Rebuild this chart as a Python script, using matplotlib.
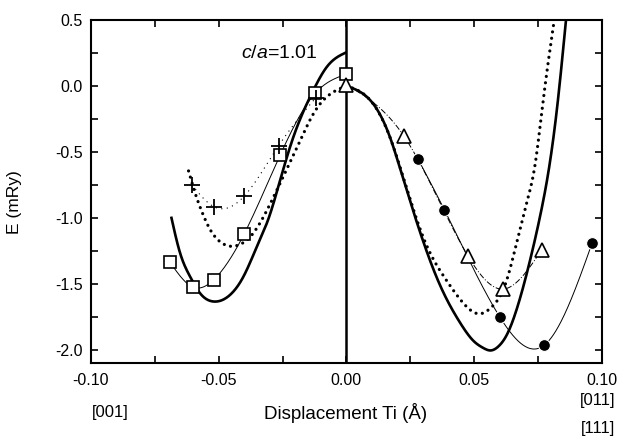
import numpy as np
import matplotlib
matplotlib.use("Agg")
import matplotlib.pyplot as plt

plt.rcParams['font.family'] = ['Liberation Sans', 'DejaVu Sans']
plt.rcParams['axes.unicode_minus'] = False
plt.rcParams['mathtext.fontset'] = 'custom'
plt.rcParams['mathtext.rm'] = 'Liberation Sans'
plt.rcParams['mathtext.it'] = 'Liberation Sans:italic'

# ---------------- data ----------------
# thick solid curve, [001] side (negative displacement)
solid_left_x = [-0.0686, -0.0651, -0.0612, -0.0573, -0.052, -0.0455, -0.0403,
                -0.035, -0.0302, -0.0259, -0.0207, -0.0135, -0.0076, 0.0]
solid_left_y = [-0.99, -1.267, -1.445, -1.571, -1.634, -1.583, -1.445,
                -1.217, -0.99, -0.712, -0.384, -0.055, 0.146, 0.255]
# thick solid curve, [011]/[111] side
solid_right_x = [0.0, 0.0107, 0.0173, 0.0212, 0.029, 0.0369, 0.0447, 0.0499,
                 0.0535, 0.0565, 0.0595, 0.063, 0.0669, 0.0722, 0.0761, 0.0787,
                 0.0826, 0.0860]
solid_right_y = [0.0, -0.14, -0.40, -0.636, -1.116, -1.52, -1.80, -1.935,
                 -1.985, -2.005, -1.975, -1.88, -1.68, -1.30, -0.965, -0.70,
                 -0.15, 0.50]
# thick dotted curve
dotted_left_x = [-0.0618, -0.0592, -0.0566, -0.0533, -0.0488, -0.0455, -0.0429,
                 -0.037, -0.0324, -0.0278, -0.018, -0.0128, -0.0076, 0.0]
dotted_left_y = [-0.644, -0.813, -0.952, -1.09, -1.19, -1.215, -1.21,
                 -1.129, -0.99, -0.813, -0.409, -0.207, -0.081, 0.0]
dotted_right_x = [0.0, 0.0107, 0.0173, 0.0238, 0.0316, 0.0382, 0.0447, 0.052,
                  0.0571, 0.0624, 0.0669, 0.0709, 0.0737, 0.0771, 0.0813]
dotted_right_y = [0.0, -0.14, -0.40, -0.788, -1.217, -1.445, -1.621, -1.727,
                  -1.672, -1.495, -1.17, -0.864, -0.62, -0.106, 0.487]

# open squares
sq_x = [-0.069, -0.0601, -0.052, -0.040, -0.0259, -0.0122, 0.0]
sq_y = [-1.338, -1.525, -1.47, -1.121, -0.523, -0.055, 0.09]
# plus markers
pl_x = [-0.0605, -0.052, -0.0399, -0.0265, -0.012]
pl_y = [-0.75, -0.914, -0.833, -0.452, -0.09]
# open triangles
tr_x = [0.0, 0.0225, 0.0476, 0.0614, 0.0765]
tr_y = [0.01, -0.379, -1.288, -1.54, -1.242]
# filled circles
ci_x = [0.0281, 0.0384, 0.0601, 0.0775, 0.0963]
ci_y = [-0.555, -0.939, -1.752, -1.965, -1.187]

x_ticks = [-0.10, -0.05, 0.00, 0.05, 0.10]
y_ticks = [0.5, 0.0, -0.5, -1.0, -1.5, -2.0]


def spline(x, y, n=300):
    """Natural cubic spline through the given points (smooth connector)."""
    x = np.asarray(x, float)
    y = np.asarray(y, float)
    k = len(x)
    h = np.diff(x)
    A = np.zeros((k, k))
    b = np.zeros(k)
    A[0, 0] = 1
    A[-1, -1] = 1
    for i in range(1, k - 1):
        A[i, i - 1] = h[i - 1]
        A[i, i] = 2 * (h[i - 1] + h[i])
        A[i, i + 1] = h[i]
        b[i] = 6 * ((y[i + 1] - y[i]) / h[i] - (y[i] - y[i - 1]) / h[i - 1])
    M = np.linalg.solve(A, b)
    xs = np.linspace(x[0], x[-1], n)
    idx = np.clip(np.searchsorted(x, xs) - 1, 0, k - 2)
    x0, x1 = x[idx], x[idx + 1]
    hh = x1 - x0
    t0 = x1 - xs
    t1 = xs - x0
    ys = (M[idx] * t0 ** 3 + M[idx + 1] * t1 ** 3) / (6 * hh) \
        + (y[idx] / hh - M[idx] * hh / 6) * t0 \
        + (y[idx + 1] / hh - M[idx + 1] * hh / 6) * t1
    return xs, ys


fig = plt.figure(figsize=(6.21, 4.45), dpi=100)
ax = fig.add_axes([0.1465, 0.1843, 0.8225, 0.7707])

# thick curves
for xs_, ys_ in [(solid_left_x, solid_left_y), (solid_right_x, solid_right_y)]:
    sx, sy = spline(xs_, ys_)
    ax.plot(sx, sy, color='black', lw=1.9, solid_capstyle='butt', zorder=3)
for xs_, ys_ in [(dotted_left_x, dotted_left_y), (dotted_right_x, dotted_right_y)]:
    sx, sy = spline(xs_, ys_)
    ax.plot(sx, sy, color='black', lw=2.3, linestyle=(0, (0.01, 2.0)),
            dash_capstyle='round', zorder=3)

# thin connector lines
sx, sy = spline(sq_x, sq_y)
ax.plot(sx, sy, color='black', lw=0.7, zorder=2)
sx, sy = spline(pl_x, pl_y)
ax.plot(sx, sy, color='black', lw=0.8, linestyle=(0, (1, 4)), zorder=2)
sx, sy = spline(tr_x, tr_y)
ax.plot(sx, sy, color='black', lw=0.7, linestyle=(0, (6, 2, 1, 2)), zorder=2)
sx, sy = spline(ci_x, ci_y)
ax.plot(sx, sy, color='black', lw=0.7, zorder=2)

# markers
ax.plot(sq_x, sq_y, linestyle='none', marker='s', ms=9, mfc='white',
        mec='black', mew=1.2, zorder=5)
ax.plot(pl_x, pl_y, linestyle='none', marker='+', ms=11, mec='black',
        mew=1.3, zorder=5)
ax.plot(tr_x, tr_y, linestyle='none', marker='^', ms=10, mfc='white',
        mec='black', mew=1.2, zorder=5)
ax.plot(ci_x, ci_y, linestyle='none', marker='o', ms=8.5, mfc='black',
        mec='white', mew=0.8, zorder=5)

ax.axvline(0.0, color='black', lw=1.8, zorder=4)

ax.set_xlim(-0.10, 0.10)
ax.set_ylim(-2.1, 0.5)
ax.set_xticks(x_ticks)
ax.set_xticklabels(['%.2f' % v for v in x_ticks])
ax.set_xticks(np.arange(-0.1, 0.1001, 0.025), minor=True)
ax.set_yticks(y_ticks)
ax.set_yticklabels(['%.1f' % v for v in y_ticks])
ax.set_yticks(np.arange(-2.0, 0.51, 0.25), minor=True)
ax.tick_params(which='both', direction='in', top=True, right=True,
               width=1.2, labelsize=11.5, colors='black')
ax.tick_params(which='major', length=5)
ax.tick_params(which='minor', length=5)
ax.tick_params(axis='x', pad=7)
ax.tick_params(axis='y', pad=6)
for s in ax.spines.values():
    s.set_linewidth(1.5)

ax.text(-0.0412, 0.25, r'$\mathit{c/a}$=1.01', fontsize=14, ha='left',
        va='center')

fig.text(15 / 621, 1 - 202 / 445, 'E (mRy)', rotation=90, ha='center',
         va='center', fontsize=12.5)
fig.text(346 / 621, 1 - 413 / 445, 'Displacement Ti (Å)', ha='center',
         va='center', fontsize=13.5)
fig.text(110 / 621, 1 - 413 / 445, '[001]', ha='center', va='center',
         fontsize=12)
fig.text(598 / 621, 1 - 400 / 445, '[011]', ha='center', va='center',
         fontsize=12)
fig.text(598 / 621, 1 - 428 / 445, '[111]', ha='center', va='center',
         fontsize=12)

fig.savefig('out.png', dpi=100)
